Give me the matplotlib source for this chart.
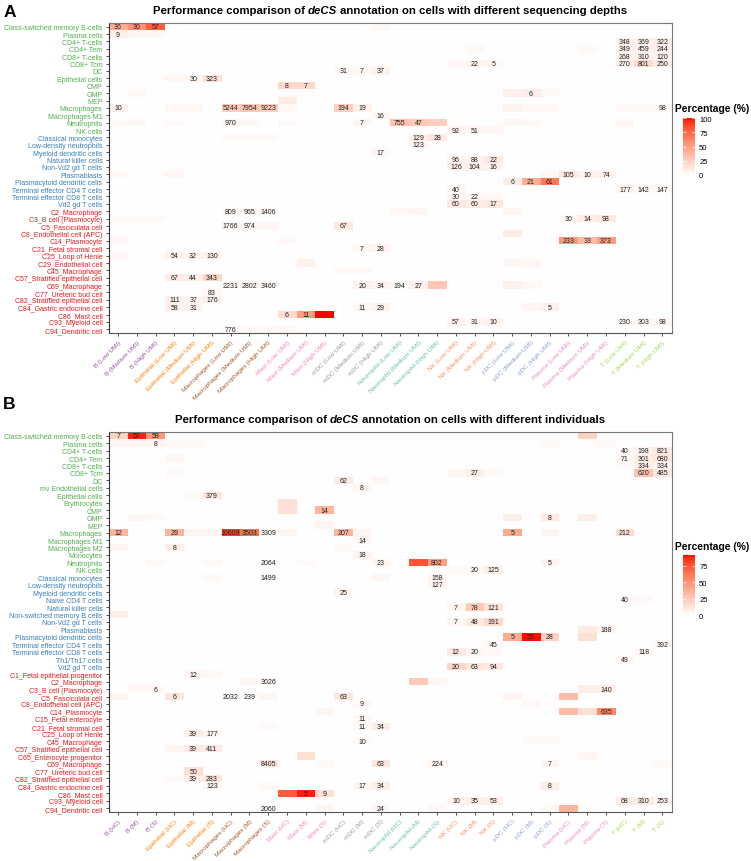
import numpy as np
import matplotlib.pyplot as plt
from matplotlib.colors import ListedColormap

plt.rcParams['font.family'] = ['Liberation Sans', 'DejaVu Sans']

cell_types = ['B', 'Epithelial', 'Macrophages', 'Mast', 'mDC',
              'Neutrophil', 'NK', 'pDC', 'Plasma', 'T']
type_colors = ['#984EA3', '#FF7F00', '#A65628', '#F781BF', '#999999',
               '#66C2A5', '#FC8D62', '#8DA0CB', '#E78AC3', '#A6D854']
depths = ['Low UMI', 'Medium UMI', 'High UMI']
individuals = ['HC', 'M', 'S']

group_colors = ['#4DAF4A', '#377EB8', '#E41A1C']

a_rows_green = ['Class-switched memory B-cells', 'Plasma cells', 'CD4+ T-cells', 'CD4+ Tem',
                'CD8+ T-cells', 'CD8+ Tcm', 'DC', 'Epithelial cells', 'CMP', 'GMP', 'MEP',
                'Macrophages', 'Macrophages M1', 'Neutrophils', 'NK cells']
a_rows_blue = ['Classical monocytes', 'Low-density neutrophils', 'Myeloid dendritic cells',
               'Natural killer cells', 'Non-Vd2 gd T cells', 'Plasmablasts',
               'Plasmacytoid dendritic cells', 'Terminal effector CD4 T cells',
               'Terminal effector CD8 T cells', 'Vd2 gd T cells']
a_rows_red = ['C2_Macrophage', 'C3_B cell (Plasmocyte)', 'C5_Fasciculata cell',
              'C8_Endothelial cell (APC)', 'C14_Plasmocyte', 'C21_Fetal stromal cell',
              'C25_Loop of Henle', 'C29_Endothelial cell', 'C45_Macrophage',
              'C57_Stratified epithelial cell', 'C69_Macrophage', 'C77_Ureteric bud cell',
              'C82_Stratified epithelial cell', 'C84_Gastric endocrine cell', 'C86_Mast cell',
              'C93_Myeloid cell', 'C94_Dendritic cell']

b_rows_green = ['Class-switched memory B-cells', 'Plasma cells', 'CD4+ T-cells', 'CD4+ Tem',
                'CD8+ T-cells', 'CD8+ Tcm', 'DC', 'mv Endothelial cells', 'Epithelial cells',
                'Erythrocytes', 'CMP', 'GMP', 'MEP', 'Macrophages', 'Macrophages M1',
                'Macrophages M2', 'Monocytes', 'Neutrophils', 'NK cells']
b_rows_blue = ['Classical monocytes', 'Low-density neutrophils', 'Myeloid dendritic cells',
               'Naive CD4 T cells', 'Natural killer cells', 'Non-switched memory B cells',
               'Non-Vd2 gd T cells', 'Plasmablasts', 'Plasmacytoid dendritic cells',
               'Terminal effector CD4 T cells', 'Terminal effector CD8 T cells',
               'Th1/Th17 cells', 'Vd2 gd T cells']
b_rows_red = ['C1_Fetal epithelial progenitor', 'C2_Macrophage', 'C3_B cell (Plasmocyte)',
              'C5_Fasciculata cell', 'C8_Endothelial cell (APC)', 'C14_Plasmocyte',
              'C15_Fetal enterocyte', 'C21_Fetal stromal cell', 'C25_Loop of Henle',
              'C45_Macrophage', 'C57_Stratified epithelial cell', 'C65_Enterocyte progenitor',
              'C69_Macrophage', 'C77_Ureteric bud cell', 'C82_Stratified epithelial cell',
              'C84_Gastric endocrine cell', 'C86_Mast cell', 'C93_Myeloid cell',
              'C94_Dendritic cell']

# (column, percentage, number of cells or None)
a_cells = {
    'Class-switched memory B-cells': [(0, 42, '36'), (1, 55, '30'), (2, 78, '57'), (14, 3, None)],
    'Plasma cells': [(0, 8, '9'), (1, 4, None), (2, 4, None)],
    'CD4+ T-cells': [(27, 8, '348'), (28, 8, '369'), (29, 10, '322')],
    'CD4+ Tem': [(19, 3, None), (25, 3, None), (27, 8, '349'), (28, 8, '459'), (29, 8, '244')],
    'CD8+ T-cells': [(27, 7, '268'), (28, 7, '310'), (29, 7, '120')],
    'CD8+ Tcm': [(18, 3, None), (19, 6, '22'), (20, 4, '5'), (27, 8, '270'), (28, 18, '801'),
                 (29, 9, '250')],
    'DC': [(12, 4, '31'), (13, 4, '7'), (14, 8, '37')],
    'Epithelial cells': [(3, 4, None), (4, 5, '30'), (5, 15, '323')],
    'CMP': [(9, 20, '8'), (10, 20, '7')],
    'GMP': [(1, 4, None), (21, 8, None), (22, 10, '6'), (23, 3, None)],
    'MEP': [(9, 10, None)],
    'Macrophages': [(0, 8, '10'), (3, 4, None), (4, 4, None), (6, 25, '5244'), (7, 30, '7954'),
                    (8, 25, '9223'), (9, 4, None), (12, 25, '194'), (13, 8, '19'), (21, 7, None),
                    (22, 4, None), (23, 4, None), (27, 3, None), (28, 3, None), (29, 3, '98')],
    'Macrophages M1': [(14, 5, '16')],
    'Neutrophils': [(0, 3, None), (1, 4, None), (3, 3, None), (6, 5, '970'), (7, 4, None),
                    (9, 3, None), (13, 5, '7'), (15, 32, '755'), (16, 28, '47'), (17, 25, None),
                    (21, 5, None), (22, 3, None), (27, 4, None)],
    'NK cells': [(18, 6, '92'), (19, 5, '51'), (20, 4, None)],
    'Classical monocytes': [(6, 3, None), (7, 3, None), (8, 3, None), (16, 8, '129'),
                            (17, 12, '28')],
    'Low-density neutrophils': [(16, 5, '123')],
    'Myeloid dendritic cells': [(14, 4, '17')],
    'Natural killer cells': [(18, 6, '96'), (19, 6, '88'), (20, 12, '22')],
    'Non-Vd2 gd T cells': [(18, 8, '126'), (19, 8, '104'), (20, 6, '16')],
    'Plasmablasts': [(0, 3, None), (3, 4, None), (23, 4, None), (24, 12, '105'), (25, 6, '10'),
                     (26, 8, '74')],
    'Plasmacytoid dendritic cells': [(21, 10, '6'), (22, 42, '21'), (23, 68, '61')],
    'Terminal effector CD4 T cells': [(18, 4, '40'), (27, 6, '177'), (28, 4, '142'),
                                      (29, 4, '147')],
    'Terminal effector CD8 T cells': [(18, 4, '30'), (19, 4, '22'), (20, 4, None)],
    'Vd2 gd T cells': [(18, 12, '60'), (19, 10, '60'), (20, 12, '17')],
    'C2_Macrophage': [(6, 3, '809'), (7, 3, '965'), (8, 3, '1406'), (15, 4, None),
                      (16, 5, None), (21, 5, None)],
    'C3_B cell (Plasmocyte)': [(0, 3, None), (1, 3, None), (2, 3, None), (24, 4, '30'),
                               (25, 10, '14'), (26, 12, '98')],
    'C5_Fasciculata cell': [(6, 5, '1766'), (7, 5, '974'), (8, 5, None), (12, 12, '67')],
    'C8_Endothelial cell (APC)': [(21, 10, None)],
    'C14_Plasmocyte': [(0, 3, None), (9, 4, None), (24, 52, '233'), (25, 35, '33'),
                       (26, 50, '373')],
    'C21_Fetal stromal cell': [(13, 4, '7'), (14, 6, '28')],
    'C25_Loop of Henle': [(0, 3, None), (3, 8, '54'), (4, 6, '32'), (5, 6, '130')],
    'C29_Endothelial cell': [(10, 8, None), (21, 5, None), (22, 4, None)],
    'C45_Macrophage': [(12, 3, None), (13, 3, None)],
    'C57_Stratified epithelial cell': [(3, 10, '67'), (4, 8, '44'), (5, 22, '343')],
    'C69_Macrophage': [(6, 3, '2231'), (7, 3, '2802'), (8, 3, '3460'), (13, 8, '20'),
                       (14, 6, '34'), (15, 4, '194'), (16, 8, '27'), (17, 30, None),
                       (21, 8, None), (22, 4, None)],
    'C77_Ureteric bud cell': [(5, 4, '83')],
    'C82_Stratified epithelial cell': [(3, 8, '111'), (4, 5, '37'), (5, 8, '176')],
    'C84_Gastric endocrine cell': [(3, 8, '58'), (4, 6, '31'), (13, 5, '11'), (14, 8, '29'),
                                   (22, 5, None), (23, 8, '5')],
    'C86_Mast cell': [(9, 18, '6'), (10, 50, '11'), (11, 100, None)],
    'C93_Myeloid cell': [(18, 6, '57'), (19, 4, '31'), (20, 8, '10'), (27, 4, '230'),
                         (28, 4, '303'), (29, 4, '98')],
    'C94_Dendritic cell': [(6, 3, '776'), (7, 3, None), (8, 3, None), (9, 4, None)],
}

b_cells = {
    'Class-switched memory B-cells': [(0, 22, '7'), (1, 88, '57'), (2, 48, '59'), (25, 22, None)],
    'Plasma cells': [(0, 4, None), (1, 4, None), (2, 6, '8'), (3, 3, None), (4, 3, None),
                     (23, 3, None), (26, 3, None)],
    'CD4+ T-cells': [(27, 3, '40'), (28, 6, '198'), (29, 10, '821')],
    'CD4+ Tem': [(3, 4, None), (27, 4, '71'), (28, 8, '301'), (29, 12, '680')],
    'CD8+ T-cells': [(27, 3, None), (28, 8, '334'), (29, 6, '334')],
    'CD8+ Tcm': [(3, 3, None), (18, 4, None), (19, 8, '27'), (20, 3, None), (28, 28, '620'),
                 (29, 10, '485')],
    'DC': [(12, 10, '62'), (14, 4, None)],
    'mv Endothelial cells': [(13, 4, '8')],
    'Epithelial cells': [(4, 3, None), (5, 12, '379')],
    'Erythrocytes': [(9, 15, None)],
    'CMP': [(9, 15, None), (11, 35, '14')],
    'GMP': [(1, 4, None), (2, 3, None), (21, 8, None), (23, 10, '8'), (25, 8, None)],
    'MEP': [(11, 6, None)],
    'Macrophages': [(0, 35, '12'), (3, 35, '29'), (4, 4, None), (5, 4, None), (6, 82, '10609'),
                    (7, 65, '3503'), (8, 3, '3309'), (9, 4, None), (12, 35, '207'),
                    (13, 4, None), (21, 40, '5'), (23, 5, None), (27, 15, '212')],
    'Macrophages M1': [(13, 4, '14')],
    'Macrophages M2': [(0, 6, None), (3, 8, '8'), (12, 3, None)],
    'Monocytes': [(13, 6, '18')],
    'Neutrophils': [(2, 3, None), (5, 3, None), (8, 2, '2064'), (10, 3, None), (14, 5, '23'),
                    (16, 75, None), (17, 45, '802'), (23, 5, '5')],
    'NK cells': [(18, 3, None), (19, 3, '20'), (20, 8, '125')],
    'Classical monocytes': [(5, 3, None), (8, 2, '1499'), (14, 4, None), (17, 5, '158')],
    'Low-density neutrophils': [(17, 4, '127')],
    'Myeloid dendritic cells': [(12, 5, '25')],
    'Naive CD4 T cells': [(27, 3, '40'), (28, 3, None)],
    'Natural killer cells': [(18, 5, '7'), (19, 25, '78'), (20, 12, '121')],
    'Non-switched memory B cells': [(0, 8, None)],
    'Non-Vd2 gd T cells': [(18, 4, '7'), (19, 10, '48'), (20, 18, '191')],
    'Plasmablasts': [(25, 10, None), (26, 5, '188')],
    'Plasmacytoid dendritic cells': [(21, 38, '5'), (22, 90, '56'), (23, 22, '28'),
                                     (25, 15, None)],
    'Terminal effector CD4 T cells': [(20, 3, '45'), (29, 3, '392')],
    'Terminal effector CD8 T cells': [(18, 10, '12'), (19, 4, '20'), (20, 3, None),
                                      (28, 3, '118')],
    'Th1/Th17 cells': [(27, 4, '49')],
    'Vd2 gd T cells': [(18, 20, '20'), (19, 12, '63'), (20, 10, '94')],
    'C1_Fetal epithelial progenitor': [(4, 4, '12'), (5, 3, None)],
    'C2_Macrophage': [(7, 4, None), (8, 4, '3026'), (16, 25, None), (17, 4, None)],
    'C3_B cell (Plasmocyte)': [(1, 3, None), (2, 3, '6'), (25, 8, None), (26, 8, '140')],
    'C5_Fasciculata cell': [(0, 6, None), (3, 12, '6'), (6, 2, '2032'), (7, 2, '239'),
                            (8, 4, None), (12, 12, '63'), (21, 6, None), (24, 32, None)],
    'C8_Endothelial cell (APC)': [(13, 3, '9'), (22, 3, None)],
    'C14_Plasmocyte': [(11, 4, None), (24, 32, None), (25, 15, None), (26, 55, '635')],
    'C15_Fetal enterocyte': [(13, 3, '11')],
    'C21_Fetal stromal cell': [(8, 3, None), (13, 3, '11'), (14, 8, '34')],
    'C25_Loop of Henle': [(4, 8, '39'), (5, 4, '177')],
    'C45_Macrophage': [(13, 3, '10'), (22, 3, None), (23, 3, None)],
    'C57_Stratified epithelial cell': [(3, 6, None), (4, 10, '39'), (5, 10, '411')],
    'C65_Enterocyte progenitor': [(10, 15, None), (25, 4, None)],
    'C69_Macrophage': [(8, 12, '8405'), (11, 3, None), (14, 12, '63'), (17, 5, '224'),
                       (23, 5, '7'), (29, 3, None)],
    'C77_Ureteric bud cell': [(4, 15, '50')],
    'C82_Stratified epithelial cell': [(3, 3, None), (4, 8, '39'), (5, 12, '283')],
    'C84_Gastric endocrine cell': [(5, 3, '123'), (8, 3, None), (13, 4, '17'), (14, 8, '34'),
                                   (23, 8, '8')],
    'C86_Mast cell': [(9, 72, None), (10, 88, '5'), (11, 15, '9')],
    'C93_Myeloid cell': [(18, 6, '10'), (19, 8, '35'), (20, 8, '53'), (27, 8, '68'),
                         (28, 10, '310'), (29, 4, '253')],
    'C94_Dendritic cell': [(8, 3, '2060'), (11, 4, None), (14, 4, '24'), (17, 3, None),
                           (23, 3, None), (24, 35, None)],
}


def lab_to_rgb(L, a, b):
    fy = (L + 16) / 116
    fx = fy + a / 500
    fz = fy - b / 200

    def finv(t):
        return np.where(t > 6 / 29, t ** 3, 3 * (6 / 29) ** 2 * (t - 4 / 29))
    X, Y, Z = 0.95047 * finv(fx), finv(fy), 1.08883 * finv(fz)
    r = 3.2406 * X - 1.5372 * Y - 0.4986 * Z
    g = -0.9689 * X + 1.8758 * Y + 0.0415 * Z
    bl = 0.0557 * X - 0.2040 * Y + 1.0570 * Z
    rgb = np.clip(np.stack([r, g, bl], axis=-1), 0, 1)
    return np.where(rgb <= 0.0031308, 12.92 * rgb, 1.055 * rgb ** (1 / 2.4) - 0.055).clip(0, 1)


# white -> red interpolated in Lab, like ggplot's scale_fill_gradient
t = np.linspace(0, 1, 256)
cmap = ListedColormap(lab_to_rgb(100 - 46.76 * t, 80.09 * t, 67.20 * t))


def draw_panel(fig, rect, rows, groups, cells, xlabels, vmax, ticks, cbar_rect):
    ax = fig.add_axes(rect)
    mat = np.zeros((len(rows), 30))
    for i, name in enumerate(rows):
        for c, pct, lab in cells.get(name, []):
            mat[i, c] = pct
    im = ax.imshow(mat, cmap=cmap, vmin=0, vmax=vmax, aspect='auto', interpolation='nearest')
    for i, name in enumerate(rows):
        for c, pct, lab in cells.get(name, []):
            if lab:
                ax.text(c, i, lab, ha='center', va='center', fontsize=5, color='#222222')

    ax.set_yticks(range(len(rows)))
    ax.set_yticklabels(rows, fontsize=5)
    row_colors = [col for g, col in zip(groups, group_colors) for _ in g]
    for tl, col in zip(ax.get_yticklabels(), row_colors):
        tl.set_color(col)

    ax.set_xticks(range(30))
    ax.set_xticklabels(xlabels, fontsize=4.6, rotation=45, ha='right', rotation_mode='anchor')
    for k, tl in enumerate(ax.get_xticklabels()):
        tl.set_color(type_colors[k // 3])

    ax.tick_params(length=2.5, width=0.6, color='#333333', pad=2)
    for s in ax.spines.values():
        s.set_color('#777777')
        s.set_linewidth(0.8)
    ax.spines['left'].set_color('#333333')
    ax.spines['bottom'].set_color('#555555')

    cax = fig.add_axes(cbar_rect)
    cb = fig.colorbar(im, cax=cax, ticks=ticks)
    cb.outline.set_visible(False)
    cax.tick_params(labelsize=5.5, length=2, width=0.5, color='white', direction='in',
                    left=True, right=True, pad=3)
    return ax


def centered_title(fig, y, parts, cx, size=8.2):
    r = fig.canvas.get_renderer()
    texts = []
    for s, style in parts:
        texts.append(fig.text(0, y, s, fontsize=size, fontweight='bold', style=style,
                              ha='left', va='center'))
    sp = fig.text(0, y, 'a a', fontsize=size, fontweight='bold')
    sp2 = fig.text(0, y, 'aa', fontsize=size, fontweight='bold')
    gap = (sp.get_window_extent(r).width - sp2.get_window_extent(r).width) / fig.bbox.width
    sp.remove()
    sp2.remove()
    widths = [tx.get_window_extent(r).width / fig.bbox.width for tx in texts]
    x = cx - (sum(widths) + gap * (len(texts) - 1)) / 2
    for tx, w in zip(texts, widths):
        tx.set_x(x)
        x += w + gap


W, H = 751, 862
fig = plt.figure(figsize=(W / 100, H / 100), dpi=100)

a_xlabels = ['%s (%s)' % (ct, d) for ct in cell_types for d in depths]
b_xlabels = ['%s (%s)' % (ct, d) for ct in cell_types for d in individuals]

left, right = 108.7 / W, 671.7 / W
draw_panel(fig, [left, 1 - 334 / H, right - left, 310 / H],
           a_rows_green + a_rows_blue + a_rows_red, [a_rows_green, a_rows_blue, a_rows_red],
           a_cells, a_xlabels, 100, [0, 25, 50, 75, 100],
           [683 / W, 1 - 176 / H, 12 / W, 57 / H])
draw_panel(fig, [left, 1 - 813 / H, right - left, 380 / H],
           b_rows_green + b_rows_blue + b_rows_red, [b_rows_green, b_rows_blue, b_rows_red],
           b_cells, b_xlabels, 91, [0, 25, 50, 75],
           [683 / W, 1 - 616.5 / H, 12 / W, 60.5 / H])

cx = (left + right) / 2
centered_title(fig, 1 - 11 / H, [('Performance comparison of', 'normal'), ('deCS', 'italic'),
               ('annotation on cells with different sequencing depths', 'normal')], cx)
centered_title(fig, 1 - 420 / H, [('Performance comparison of', 'normal'), ('deCS', 'italic'),
               ('annotation on cells with different individuals', 'normal')], cx)

fig.text(4 / W, 1 - 12.5 / H, 'A', fontsize=12.5, fontweight='bold', va='center')
fig.text(3 / W, 1 - 405 / H, 'B', fontsize=12.5, fontweight='bold', va='center')
fig.text(675 / W, 1 - 109 / H, 'Percentage (%)', fontsize=7.4, fontweight='bold', va='center')
fig.text(675 / W, 1 - 547 / H, 'Percentage (%)', fontsize=7.4, fontweight='bold', va='center')

fig.savefig('out.png', dpi=100)
